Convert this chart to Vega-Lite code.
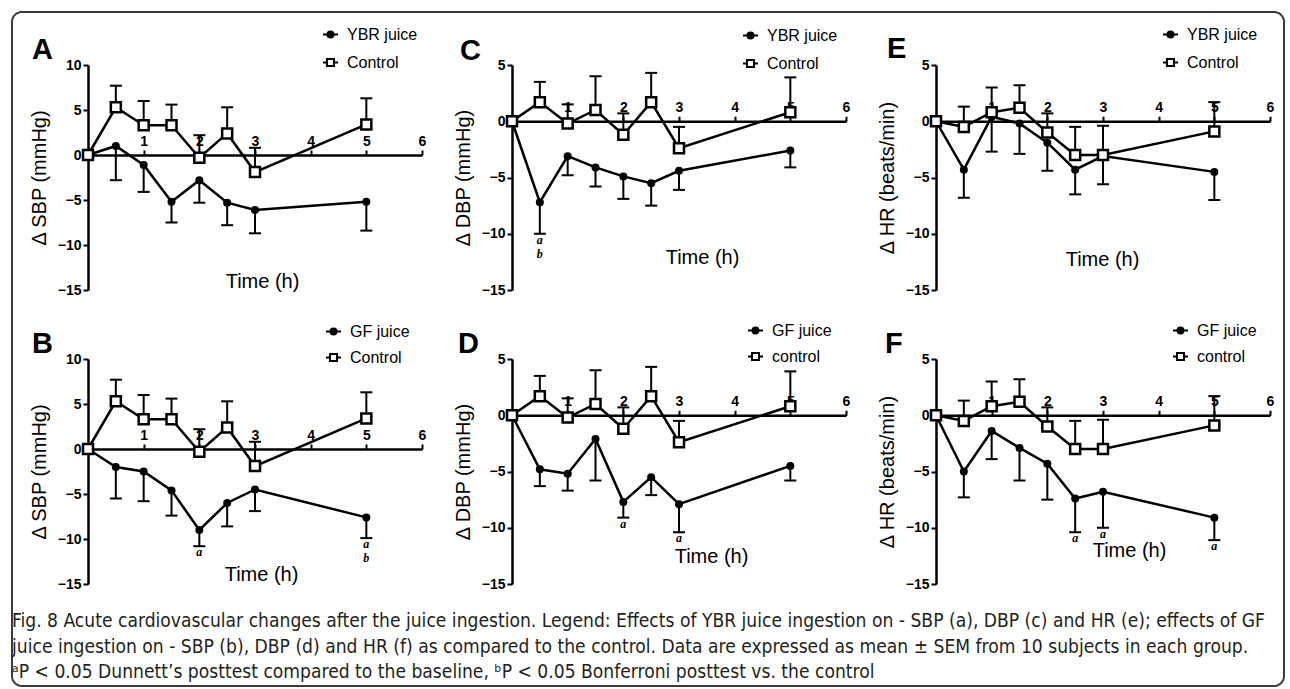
{
"$schema": "https://vega.github.io/schema/vega-lite/v6.json",
"padding": {"left": 12, "top": 26, "right": 6, "bottom": 3},
"spacing": 294,
"bounds": "flush",
"datasets": {"s": [
{"p":"A","k":"j","g":"YBR juice","t":0,"m":0,"e":0},
{"p":"A","k":"j","g":"YBR juice","t":0.5,"m":1.0,"e":-2.8},
{"p":"A","k":"j","g":"YBR juice","t":1,"m":-1.1,"e":-4.1},
{"p":"A","k":"j","g":"YBR juice","t":1.5,"m":-5.2,"e":-7.5},
{"p":"A","k":"j","g":"YBR juice","t":2,"m":-2.8,"e":-5.3},
{"p":"A","k":"j","g":"YBR juice","t":2.5,"m":-5.3,"e":-7.8},
{"p":"A","k":"j","g":"YBR juice","t":3,"m":-6.1,"e":-8.7},
{"p":"A","k":"j","g":"YBR juice","t":5,"m":-5.2,"e":-8.4},
{"p":"A","k":"c","g":"Control","t":0,"m":0,"e":0},
{"p":"A","k":"c","g":"Control","t":0.5,"m":5.3,"e":7.7},
{"p":"A","k":"c","g":"Control","t":1,"m":3.3,"e":6.0},
{"p":"A","k":"c","g":"Control","t":1.5,"m":3.3,"e":5.6},
{"p":"A","k":"c","g":"Control","t":2,"m":-0.3,"e":2.2},
{"p":"A","k":"c","g":"Control","t":2.5,"m":2.4,"e":5.3},
{"p":"A","k":"c","g":"Control","t":3,"m":-1.9,"e":0.8},
{"p":"A","k":"c","g":"Control","t":5,"m":3.4,"e":6.3},
{"p":"B","k":"j","g":"GF juice","t":0,"m":0,"e":0},
{"p":"B","k":"j","g":"GF juice","t":0.5,"m":-2.0,"e":-5.5},
{"p":"B","k":"j","g":"GF juice","t":1,"m":-2.5,"e":-5.8},
{"p":"B","k":"j","g":"GF juice","t":1.5,"m":-4.6,"e":-7.4},
{"p":"B","k":"j","g":"GF juice","t":2,"m":-9.0,"e":-10.8,"n":"a"},
{"p":"B","k":"j","g":"GF juice","t":2.5,"m":-6.0,"e":-8.6},
{"p":"B","k":"j","g":"GF juice","t":3,"m":-4.5,"e":-6.9},
{"p":"B","k":"j","g":"GF juice","t":5,"m":-7.6,"e":-9.9,"n":"a\nb"},
{"p":"B","k":"c","g":"Control","t":0,"m":0,"e":0},
{"p":"B","k":"c","g":"Control","t":0.5,"m":5.3,"e":7.7},
{"p":"B","k":"c","g":"Control","t":1,"m":3.3,"e":6.0},
{"p":"B","k":"c","g":"Control","t":1.5,"m":3.3,"e":5.6},
{"p":"B","k":"c","g":"Control","t":2,"m":-0.3,"e":2.2},
{"p":"B","k":"c","g":"Control","t":2.5,"m":2.4,"e":5.3},
{"p":"B","k":"c","g":"Control","t":3,"m":-1.9,"e":0.8},
{"p":"B","k":"c","g":"Control","t":5,"m":3.4,"e":6.3},
{"p":"C","k":"j","g":"YBR juice","t":0,"m":0,"e":0},
{"p":"C","k":"j","g":"YBR juice","t":0.5,"m":-7.2,"e":-10.0,"n":"a\nb"},
{"p":"C","k":"j","g":"YBR juice","t":1,"m":-3.1,"e":-4.8},
{"p":"C","k":"j","g":"YBR juice","t":1.5,"m":-4.1,"e":-5.8},
{"p":"C","k":"j","g":"YBR juice","t":2,"m":-4.9,"e":-6.9},
{"p":"C","k":"j","g":"YBR juice","t":2.5,"m":-5.5,"e":-7.5},
{"p":"C","k":"j","g":"YBR juice","t":3,"m":-4.4,"e":-6.1},
{"p":"C","k":"j","g":"YBR juice","t":5,"m":-2.6,"e":-4.1},
{"p":"C","k":"c","g":"Control","t":0,"m":0,"e":0},
{"p":"C","k":"c","g":"Control","t":0.5,"m":1.7,"e":3.5},
{"p":"C","k":"c","g":"Control","t":1,"m":-0.2,"e":1.5},
{"p":"C","k":"c","g":"Control","t":1.5,"m":1.0,"e":4.0},
{"p":"C","k":"c","g":"Control","t":2,"m":-1.2,"e":0.7},
{"p":"C","k":"c","g":"Control","t":2.5,"m":1.7,"e":4.3},
{"p":"C","k":"c","g":"Control","t":3,"m":-2.4,"e":-0.5},
{"p":"C","k":"c","g":"Control","t":5,"m":0.8,"e":3.9},
{"p":"D","k":"j","g":"GF juice","t":0,"m":0,"e":0},
{"p":"D","k":"j","g":"GF juice","t":0.5,"m":-4.8,"e":-6.3},
{"p":"D","k":"j","g":"GF juice","t":1,"m":-5.2,"e":-6.7},
{"p":"D","k":"j","g":"GF juice","t":1.5,"m":-2.1,"e":-5.8},
{"p":"D","k":"j","g":"GF juice","t":2,"m":-7.7,"e":-9.1,"n":"a"},
{"p":"D","k":"j","g":"GF juice","t":2.5,"m":-5.5,"e":-7.1},
{"p":"D","k":"j","g":"GF juice","t":3,"m":-7.9,"e":-10.4,"n":"a"},
{"p":"D","k":"j","g":"GF juice","t":5,"m":-4.5,"e":-5.8},
{"p":"D","k":"c","g":"control","t":0,"m":0,"e":0},
{"p":"D","k":"c","g":"control","t":0.5,"m":1.7,"e":3.5},
{"p":"D","k":"c","g":"control","t":1,"m":-0.2,"e":1.5},
{"p":"D","k":"c","g":"control","t":1.5,"m":1.0,"e":4.0},
{"p":"D","k":"c","g":"control","t":2,"m":-1.2,"e":0.7},
{"p":"D","k":"c","g":"control","t":2.5,"m":1.7,"e":4.3},
{"p":"D","k":"c","g":"control","t":3,"m":-2.4,"e":-0.5},
{"p":"D","k":"c","g":"control","t":5,"m":0.8,"e":3.9},
{"p":"E","k":"j","g":"YBR juice","t":0,"m":0,"e":0},
{"p":"E","k":"j","g":"YBR juice","t":0.5,"m":-4.3,"e":-6.8},
{"p":"E","k":"j","g":"YBR juice","t":1,"m":0.4,"e":-2.7},
{"p":"E","k":"j","g":"YBR juice","t":1.5,"m":-0.2,"e":-2.9},
{"p":"E","k":"j","g":"YBR juice","t":2,"m":-1.9,"e":-4.4},
{"p":"E","k":"j","g":"YBR juice","t":2.5,"m":-4.3,"e":-6.5},
{"p":"E","k":"j","g":"YBR juice","t":3,"m":-3.1,"e":-5.6},
{"p":"E","k":"j","g":"YBR juice","t":5,"m":-4.5,"e":-7.0},
{"p":"E","k":"c","g":"Control","t":0,"m":0,"e":0},
{"p":"E","k":"c","g":"Control","t":0.5,"m":-0.5,"e":1.3},
{"p":"E","k":"c","g":"Control","t":1,"m":0.8,"e":3.0},
{"p":"E","k":"c","g":"Control","t":1.5,"m":1.2,"e":3.2},
{"p":"E","k":"c","g":"Control","t":2,"m":-1.0,"e":0.7},
{"p":"E","k":"c","g":"Control","t":2.5,"m":-3.0,"e":-0.5},
{"p":"E","k":"c","g":"Control","t":3,"m":-3.0,"e":-0.4},
{"p":"E","k":"c","g":"Control","t":5,"m":-0.9,"e":1.7},
{"p":"F","k":"j","g":"GF juice","t":0,"m":0,"e":0},
{"p":"F","k":"j","g":"GF juice","t":0.5,"m":-5.0,"e":-7.3},
{"p":"F","k":"j","g":"GF juice","t":1,"m":-1.4,"e":-3.9},
{"p":"F","k":"j","g":"GF juice","t":1.5,"m":-2.9,"e":-5.8},
{"p":"F","k":"j","g":"GF juice","t":2,"m":-4.3,"e":-7.5},
{"p":"F","k":"j","g":"GF juice","t":2.5,"m":-7.4,"e":-10.4,"n":"a"},
{"p":"F","k":"j","g":"GF juice","t":3,"m":-6.8,"e":-10.0,"n":"a"},
{"p":"F","k":"j","g":"GF juice","t":5,"m":-9.1,"e":-11.1,"n":"a"},
{"p":"F","k":"c","g":"control","t":0,"m":0,"e":0},
{"p":"F","k":"c","g":"control","t":0.5,"m":-0.5,"e":1.3},
{"p":"F","k":"c","g":"control","t":1,"m":0.8,"e":3.0},
{"p":"F","k":"c","g":"control","t":1.5,"m":1.2,"e":3.2},
{"p":"F","k":"c","g":"control","t":2,"m":-1.0,"e":0.7},
{"p":"F","k":"c","g":"control","t":2.5,"m":-3.0,"e":-0.5},
{"p":"F","k":"c","g":"control","t":3,"m":-3.0,"e":-0.4},
{"p":"F","k":"c","g":"control","t":5,"m":-0.9,"e":1.7}
]},
"data": {"name": "s"},
"title": {
  "text": [
    "Fig. 8 Acute cardiovascular changes after the juice ingestion. Legend: Effects of YBR juice ingestion on - SBP (a), DBP (c) and HR (e); effects of GF",
    "juice ingestion on - SBP (b), DBP (d) and HR (f) as compared to the control. Data are expressed as mean ± SEM from 10 subjects in each group.",
    "ᵃP < 0.05 Dunnett’s posttest compared to the baseline, ᵇP < 0.05 Bonferroni posttest vs. the control"
  ],
  "orient": "bottom", "anchor": "start", "frame": "group", "dx": -76, "offset": -78,
  "font": "Liberation Sans Narrow, DejaVu Sans Condensed, Liberation Sans", "fontSize": 19.1, "fontWeight": "normal",
  "color": "#231f20", "lineHeight": 25.5, "baseline": "top"
},
"resolve": {"scale": {"shape": "independent", "x": "independent", "y": "independent", "strokeDash": "independent"}, "legend": {"shape": "independent", "strokeDash": "independent"}},
"vconcat": [
{
"hconcat": [
{
"width": 334, "height": 225,
"title": {"text": "A", "dx": -56, "offset": -39},
"transform": [{"filter": "datum.p === 'A'"}],
"encoding": {
  "x": {"field": "t", "type": "quantitative", "scale": {"domain": [0, 6], "nice": false}, "axis": {"orient": "top", "offset": -90, "values": [1,2,3,4,5,6], "title": "Time (h)", "titleX": 174, "titleY": 132}},
  "y": {"field": "m", "type": "quantitative", "scale": {"domain": [-15, 10], "nice": false}, "title": "Δ SBP (mmHg)"}
},
"layer": [
  {"mark": {"type": "line", "color": "black", "strokeWidth": 2.5}, "encoding": {"detail": {"field": "k"}}},
  {"transform": [{"filter": "datum.t > 0"}], "mark": {"type": "rule", "color": "black", "strokeWidth": 2}, "encoding": {"y2": {"field": "e"}}},
  {"transform": [{"filter": "datum.t > 0"}], "mark": {"type": "point", "shape": "M-1,0L1,0", "size": 144, "color": "black", "strokeWidth": 2, "opacity": 1}, "encoding": {"y": {"field": "e", "type": "quantitative", "scale": {"domain": [-15, 10], "nice": false}, "title": "Δ SBP (mmHg)"}}},
  {"transform": [{"filter": "datum.k === 'j'"}], "mark": {"type": "point", "shape": "circle", "filled": true, "color": "black", "size": 64, "opacity": 1}},
  {"transform": [{"filter": "datum.k === 'c'"}], "mark": {"type": "point", "shape": "square", "filled": true, "fill": "white", "stroke": "black", "strokeWidth": 2.5, "size": 100, "opacity": 1}},
  {"mark": {"type": "point", "filled": false, "color": "black", "strokeWidth": 2, "size": 225, "opacity": 0}, "encoding": {"shape": {"field": "g", "type": "nominal", "scale": {"domain": ["YBR juice", "Control"], "range": ["M-1,0L1,0M0.4,0A0.4,0.4,0,1,1,-0.4,0A0.4,0.4,0,1,1,0.4,0M0.2,0A0.2,0.2,0,1,1,-0.2,0A0.2,0.2,0,1,1,0.2,0", "M-1,0L-0.47,0M0.47,0L1,0M-0.47,-0.47L0.47,-0.47L0.47,0.47L-0.47,0.47Z"]}, "legend": {"orient": "none", "legendX": 234, "legendY": -39, "title": null, "rowPadding": 11}}}},
  {"transform": [{"filter": "datum.k === 'j' && datum.t === 0"}], "mark": {"type": "point", "filled": false, "color": "#3a3a3a", "strokeWidth": 2, "size": 4, "opacity": 0}, "encoding": {"strokeDash": {"field": "p", "type": "nominal", "scale": {"domain": ["A"], "range": [[1, 0]]}, "legend": {"orient": "none", "legendX": 552, "legendY": 276, "title": null, "padding": 0, "symbolType": "M-626,-337H626A10,10,0,0,1,636,-327V327A10,10,0,0,1,626,337H-626A10,10,0,0,1,-636,327V-327A10,10,0,0,1,-626,-337Z", "symbolSize": 4, "symbolStrokeColor": "#3a3a3a", "symbolStrokeWidth": 2, "symbolFillColor": "transparent", "labelExpr": "''"}}}},
  {"transform": [{"filter": "datum.n"}], "mark": {"type": "text", "font": "Liberation Serif", "fontStyle": "italic", "fontWeight": "bold", "fontSize": 12, "baseline": "top", "dy": 1, "lineBreak": "\n", "lineHeight": 14, "color": "black"}, "encoding": {"y": {"field": "e", "type": "quantitative", "scale": {"domain": [-15, 10], "nice": false}, "title": "Δ SBP (mmHg)"}, "text": {"field": "n"}}}
]
},
{
"width": 334, "height": 225,
"title": {"text": "C", "dx": -52, "offset": -39},
"transform": [{"filter": "datum.p === 'C'"}],
"encoding": {
  "x": {"field": "t", "type": "quantitative", "scale": {"domain": [0, 6], "nice": false}, "axis": {"orient": "top", "offset": -56.25, "values": [1,2,3,4,5,6], "title": "Time (h)", "titleX": 190, "titleY": 142}},
  "y": {"field": "m", "type": "quantitative", "scale": {"domain": [-15, 5], "nice": false}, "title": "Δ DBP (mmHg)"}
},
"layer": [
  {"mark": {"type": "line", "color": "black", "strokeWidth": 2.5}, "encoding": {"detail": {"field": "k"}}},
  {"transform": [{"filter": "datum.t > 0"}], "mark": {"type": "rule", "color": "black", "strokeWidth": 2}, "encoding": {"y2": {"field": "e"}}},
  {"transform": [{"filter": "datum.t > 0"}], "mark": {"type": "point", "shape": "M-1,0L1,0", "size": 144, "color": "black", "strokeWidth": 2, "opacity": 1}, "encoding": {"y": {"field": "e", "type": "quantitative", "scale": {"domain": [-15, 5], "nice": false}, "title": "Δ DBP (mmHg)"}}},
  {"transform": [{"filter": "datum.k === 'j'"}], "mark": {"type": "point", "shape": "circle", "filled": true, "color": "black", "size": 64, "opacity": 1}},
  {"transform": [{"filter": "datum.k === 'c'"}], "mark": {"type": "point", "shape": "square", "filled": true, "fill": "white", "stroke": "black", "strokeWidth": 2.5, "size": 100, "opacity": 1}},
  {"mark": {"type": "point", "filled": false, "color": "black", "strokeWidth": 2, "size": 225, "opacity": 0}, "encoding": {"shape": {"field": "g", "type": "nominal", "scale": {"domain": ["YBR juice", "Control"], "range": ["M-1,0L1,0M0.4,0A0.4,0.4,0,1,1,-0.4,0A0.4,0.4,0,1,1,0.4,0M0.2,0A0.2,0.2,0,1,1,-0.2,0A0.2,0.2,0,1,1,0.2,0", "M-1,0L-0.47,0M0.47,0L1,0M-0.47,-0.47L0.47,-0.47L0.47,0.47L-0.47,0.47Z"]}, "legend": {"orient": "none", "legendX": 230, "legendY": -38, "title": null, "rowPadding": 11}}}},
  {"transform": [{"filter": "datum.n"}], "mark": {"type": "text", "font": "Liberation Serif", "fontStyle": "italic", "fontWeight": "bold", "fontSize": 12, "baseline": "top", "dy": 1, "lineBreak": "\n", "lineHeight": 14, "color": "black"}, "encoding": {"y": {"field": "e", "type": "quantitative", "scale": {"domain": [-15, 5], "nice": false}, "title": "Δ DBP (mmHg)"}, "text": {"field": "n"}}}
]
},
{
"width": 334, "height": 225,
"title": {"text": "E", "dx": -49, "offset": -38},
"transform": [{"filter": "datum.p === 'E'"}],
"encoding": {
  "x": {"field": "t", "type": "quantitative", "scale": {"domain": [0, 6], "nice": false}, "axis": {"orient": "top", "offset": -56.25, "values": [1,2,3,4,5,6], "title": "Time (h)", "titleX": 166, "titleY": 144}},
  "y": {"field": "m", "type": "quantitative", "scale": {"domain": [-15, 5], "nice": false}, "title": "Δ HR (beats/min)"}
},
"layer": [
  {"mark": {"type": "line", "color": "black", "strokeWidth": 2.5}, "encoding": {"detail": {"field": "k"}}},
  {"transform": [{"filter": "datum.t > 0"}], "mark": {"type": "rule", "color": "black", "strokeWidth": 2}, "encoding": {"y2": {"field": "e"}}},
  {"transform": [{"filter": "datum.t > 0"}], "mark": {"type": "point", "shape": "M-1,0L1,0", "size": 144, "color": "black", "strokeWidth": 2, "opacity": 1}, "encoding": {"y": {"field": "e", "type": "quantitative", "scale": {"domain": [-15, 5], "nice": false}, "title": "Δ HR (beats/min)"}}},
  {"transform": [{"filter": "datum.k === 'j'"}], "mark": {"type": "point", "shape": "circle", "filled": true, "color": "black", "size": 64, "opacity": 1}},
  {"transform": [{"filter": "datum.k === 'c'"}], "mark": {"type": "point", "shape": "square", "filled": true, "fill": "white", "stroke": "black", "strokeWidth": 2.5, "size": 100, "opacity": 1}},
  {"mark": {"type": "point", "filled": false, "color": "black", "strokeWidth": 2, "size": 225, "opacity": 0}, "encoding": {"shape": {"field": "g", "type": "nominal", "scale": {"domain": ["YBR juice", "Control"], "range": ["M-1,0L1,0M0.4,0A0.4,0.4,0,1,1,-0.4,0A0.4,0.4,0,1,1,0.4,0M0.2,0A0.2,0.2,0,1,1,-0.2,0A0.2,0.2,0,1,1,0.2,0", "M-1,0L-0.47,0M0.47,0L1,0M-0.47,-0.47L0.47,-0.47L0.47,0.47L-0.47,0.47Z"]}, "legend": {"orient": "none", "legendX": 226, "legendY": -39, "title": null, "rowPadding": 11}}}},
  {"transform": [{"filter": "datum.n"}], "mark": {"type": "text", "font": "Liberation Serif", "fontStyle": "italic", "fontWeight": "bold", "fontSize": 12, "baseline": "top", "dy": 1, "lineBreak": "\n", "lineHeight": 14, "color": "black"}, "encoding": {"y": {"field": "e", "type": "quantitative", "scale": {"domain": [-15, 5], "nice": false}, "title": "Δ HR (beats/min)"}, "text": {"field": "n"}}}
]
}
],
"spacing": 90, "bounds": "flush",
"resolve": {"scale": {"shape": "independent", "x": "independent", "y": "independent", "strokeDash": "independent"}, "legend": {"shape": "independent", "strokeDash": "independent"}}
},
{
"hconcat": [
{
"width": 334, "height": 225,
"title": {"text": "B", "dx": -56, "offset": -36},
"transform": [{"filter": "datum.p === 'B'"}],
"encoding": {
  "x": {"field": "t", "type": "quantitative", "scale": {"domain": [0, 6], "nice": false}, "axis": {"orient": "top", "offset": -90, "values": [1,2,3,4,5,6], "title": "Time (h)", "titleX": 173, "titleY": 131}},
  "y": {"field": "m", "type": "quantitative", "scale": {"domain": [-15, 10], "nice": false}, "title": "Δ SBP (mmHg)"}
},
"layer": [
  {"mark": {"type": "line", "color": "black", "strokeWidth": 2.5}, "encoding": {"detail": {"field": "k"}}},
  {"transform": [{"filter": "datum.t > 0"}], "mark": {"type": "rule", "color": "black", "strokeWidth": 2}, "encoding": {"y2": {"field": "e"}}},
  {"transform": [{"filter": "datum.t > 0"}], "mark": {"type": "point", "shape": "M-1,0L1,0", "size": 144, "color": "black", "strokeWidth": 2, "opacity": 1}, "encoding": {"y": {"field": "e", "type": "quantitative", "scale": {"domain": [-15, 10], "nice": false}, "title": "Δ SBP (mmHg)"}}},
  {"transform": [{"filter": "datum.k === 'j'"}], "mark": {"type": "point", "shape": "circle", "filled": true, "color": "black", "size": 64, "opacity": 1}},
  {"transform": [{"filter": "datum.k === 'c'"}], "mark": {"type": "point", "shape": "square", "filled": true, "fill": "white", "stroke": "black", "strokeWidth": 2.5, "size": 100, "opacity": 1}},
  {"mark": {"type": "point", "filled": false, "color": "black", "strokeWidth": 2, "size": 225, "opacity": 0}, "encoding": {"shape": {"field": "g", "type": "nominal", "scale": {"domain": ["GF juice", "Control"], "range": ["M-1,0L1,0M0.4,0A0.4,0.4,0,1,1,-0.4,0A0.4,0.4,0,1,1,0.4,0M0.2,0A0.2,0.2,0,1,1,-0.2,0A0.2,0.2,0,1,1,0.2,0", "M-1,0L-0.47,0M0.47,0L1,0M-0.47,-0.47L0.47,-0.47L0.47,0.47L-0.47,0.47Z"]}, "legend": {"orient": "none", "legendX": 237, "legendY": -36, "title": null, "rowPadding": 9}}}},
  {"transform": [{"filter": "datum.n"}], "mark": {"type": "text", "font": "Liberation Serif", "fontStyle": "italic", "fontWeight": "bold", "fontSize": 12, "baseline": "top", "dy": 1, "lineBreak": "\n", "lineHeight": 14, "color": "black"}, "encoding": {"y": {"field": "e", "type": "quantitative", "scale": {"domain": [-15, 10], "nice": false}, "title": "Δ SBP (mmHg)"}, "text": {"field": "n"}}}
]
},
{
"width": 334, "height": 225,
"title": {"text": "D", "dx": -54, "offset": -37},
"transform": [{"filter": "datum.p === 'D'"}],
"encoding": {
  "x": {"field": "t", "type": "quantitative", "scale": {"domain": [0, 6], "nice": false}, "axis": {"orient": "top", "offset": -56.25, "values": [1,2,3,4,5,6], "title": "Time (h)", "titleX": 199, "titleY": 147}},
  "y": {"field": "m", "type": "quantitative", "scale": {"domain": [-15, 5], "nice": false}, "title": "Δ DBP (mmHg)"}
},
"layer": [
  {"mark": {"type": "line", "color": "black", "strokeWidth": 2.5}, "encoding": {"detail": {"field": "k"}}},
  {"transform": [{"filter": "datum.t > 0"}], "mark": {"type": "rule", "color": "black", "strokeWidth": 2}, "encoding": {"y2": {"field": "e"}}},
  {"transform": [{"filter": "datum.t > 0"}], "mark": {"type": "point", "shape": "M-1,0L1,0", "size": 144, "color": "black", "strokeWidth": 2, "opacity": 1}, "encoding": {"y": {"field": "e", "type": "quantitative", "scale": {"domain": [-15, 5], "nice": false}, "title": "Δ DBP (mmHg)"}}},
  {"transform": [{"filter": "datum.k === 'j'"}], "mark": {"type": "point", "shape": "circle", "filled": true, "color": "black", "size": 64, "opacity": 1}},
  {"transform": [{"filter": "datum.k === 'c'"}], "mark": {"type": "point", "shape": "square", "filled": true, "fill": "white", "stroke": "black", "strokeWidth": 2.5, "size": 100, "opacity": 1}},
  {"mark": {"type": "point", "filled": false, "color": "black", "strokeWidth": 2, "size": 225, "opacity": 0}, "encoding": {"shape": {"field": "g", "type": "nominal", "scale": {"domain": ["GF juice", "control"], "range": ["M-1,0L1,0M0.4,0A0.4,0.4,0,1,1,-0.4,0A0.4,0.4,0,1,1,0.4,0M0.2,0A0.2,0.2,0,1,1,-0.2,0A0.2,0.2,0,1,1,0.2,0", "M-1,0L-0.47,0M0.47,0L1,0M-0.47,-0.47L0.47,-0.47L0.47,0.47L-0.47,0.47Z"]}, "legend": {"orient": "none", "legendX": 235, "legendY": -37, "title": null, "rowPadding": 9}}}},
  {"transform": [{"filter": "datum.n"}], "mark": {"type": "text", "font": "Liberation Serif", "fontStyle": "italic", "fontWeight": "bold", "fontSize": 12, "baseline": "top", "dy": 1, "lineBreak": "\n", "lineHeight": 14, "color": "black"}, "encoding": {"y": {"field": "e", "type": "quantitative", "scale": {"domain": [-15, 5], "nice": false}, "title": "Δ DBP (mmHg)"}, "text": {"field": "n"}}}
]
},
{
"width": 334, "height": 225,
"title": {"text": "F", "dx": -51, "offset": -37},
"transform": [{"filter": "datum.p === 'F'"}],
"encoding": {
  "x": {"field": "t", "type": "quantitative", "scale": {"domain": [0, 6], "nice": false}, "axis": {"orient": "top", "offset": -56.25, "values": [1,2,3,4,5,6], "title": "Time (h)", "titleX": 193, "titleY": 141}},
  "y": {"field": "m", "type": "quantitative", "scale": {"domain": [-15, 5], "nice": false}, "title": "Δ HR (beats/min)"}
},
"layer": [
  {"mark": {"type": "line", "color": "black", "strokeWidth": 2.5}, "encoding": {"detail": {"field": "k"}}},
  {"transform": [{"filter": "datum.t > 0"}], "mark": {"type": "rule", "color": "black", "strokeWidth": 2}, "encoding": {"y2": {"field": "e"}}},
  {"transform": [{"filter": "datum.t > 0"}], "mark": {"type": "point", "shape": "M-1,0L1,0", "size": 144, "color": "black", "strokeWidth": 2, "opacity": 1}, "encoding": {"y": {"field": "e", "type": "quantitative", "scale": {"domain": [-15, 5], "nice": false}, "title": "Δ HR (beats/min)"}}},
  {"transform": [{"filter": "datum.k === 'j'"}], "mark": {"type": "point", "shape": "circle", "filled": true, "color": "black", "size": 64, "opacity": 1}},
  {"transform": [{"filter": "datum.k === 'c'"}], "mark": {"type": "point", "shape": "square", "filled": true, "fill": "white", "stroke": "black", "strokeWidth": 2.5, "size": 100, "opacity": 1}},
  {"mark": {"type": "point", "filled": false, "color": "black", "strokeWidth": 2, "size": 225, "opacity": 0}, "encoding": {"shape": {"field": "g", "type": "nominal", "scale": {"domain": ["GF juice", "control"], "range": ["M-1,0L1,0M0.4,0A0.4,0.4,0,1,1,-0.4,0A0.4,0.4,0,1,1,0.4,0M0.2,0A0.2,0.2,0,1,1,-0.2,0A0.2,0.2,0,1,1,0.2,0", "M-1,0L-0.47,0M0.47,0L1,0M-0.47,-0.47L0.47,-0.47L0.47,0.47L-0.47,0.47Z"]}, "legend": {"orient": "none", "legendX": 236, "legendY": -37, "title": null, "rowPadding": 9}}}},
  {"transform": [{"filter": "datum.n"}], "mark": {"type": "text", "font": "Liberation Serif", "fontStyle": "italic", "fontWeight": "bold", "fontSize": 12, "baseline": "top", "dy": 1, "lineBreak": "\n", "lineHeight": 14, "color": "black"}, "encoding": {"y": {"field": "e", "type": "quantitative", "scale": {"domain": [-15, 5], "nice": false}, "title": "Δ HR (beats/min)"}, "text": {"field": "n"}}}
]
}
],
"spacing": 90, "bounds": "flush",
"resolve": {"scale": {"shape": "independent", "x": "independent", "y": "independent", "strokeDash": "independent"}, "legend": {"shape": "independent", "strokeDash": "independent"}}
}
],
"config": {
  "view": {"stroke": null},
  "font": "Liberation Sans",
  "background": "white",
  "title": {"anchor": "start", "frame": "group", "font": "Liberation Sans", "fontSize": 29, "fontWeight": "bold", "baseline": "alphabetic", "offset": 4, "color": "black"},
  "axis": {"domainColor": "black", "domainWidth": 2.5, "tickColor": "black", "tickWidth": 2, "tickSize": 5, "labelFont": "Liberation Sans", "labelFontSize": 14, "labelFontWeight": "bold", "labelColor": "black", "labelFlush": false, "labelOverlap": false, "titleFont": "Liberation Sans", "titleFontSize": 20, "titleFontWeight": "normal", "titleColor": "black", "grid": false},
  "axisX": {"labelPadding": 2, "titleBaseline": "alphabetic"},
  "axisY": {"labelPadding": 2, "titlePadding": 8},
  "legend": {"labelFont": "Liberation Sans", "labelFontSize": 16, "labelColor": "black", "symbolSize": 225, "labelOffset": 8, "padding": 0, "symbolStrokeWidth": 2, "symbolStrokeColor": "black", "symbolOpacity": 1}
}
}
